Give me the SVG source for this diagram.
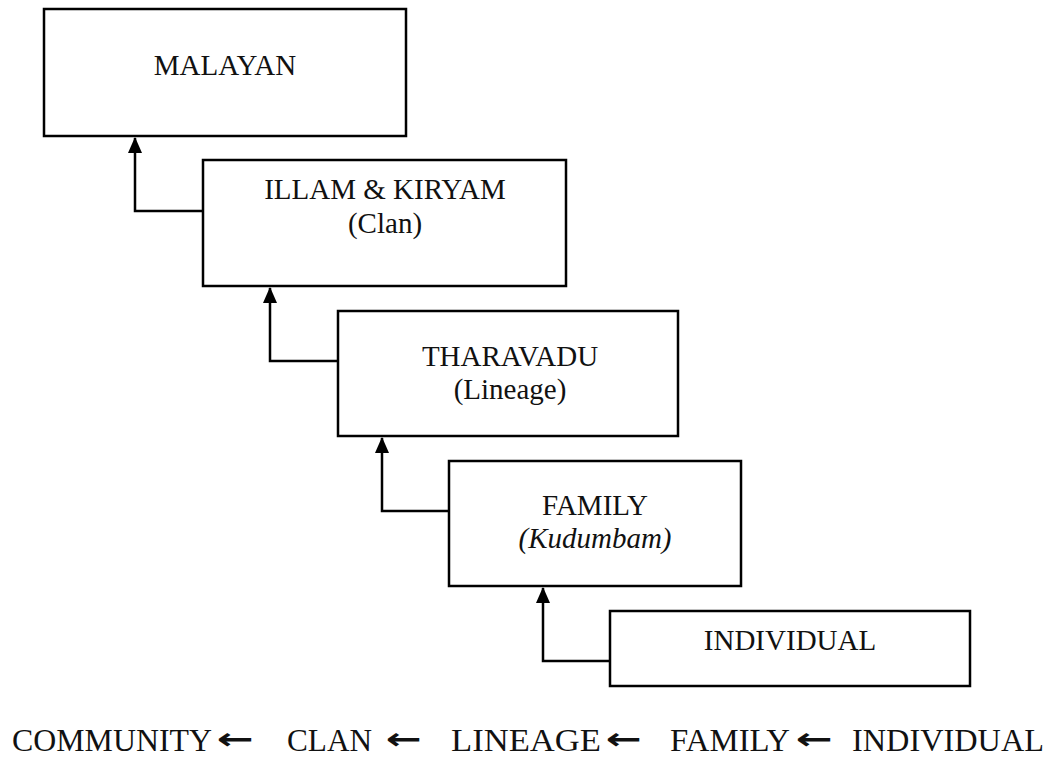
<svg xmlns="http://www.w3.org/2000/svg" width="1054" height="758" viewBox="0 0 1054 758">
<style>
.box{fill:#fff;stroke:#000;stroke-width:2.5}
.t{font-family:"Liberation Serif","DejaVu Serif",serif;font-size:29px;fill:#111;text-anchor:middle}
.i{font-style:italic}
.c{fill:none;stroke:#000;stroke-width:2.5}
.b{font-family:"Liberation Serif","DejaVu Serif",serif;font-size:32px;fill:#111}
.ar{font-family:"DejaVu Sans",sans-serif;font-weight:bold;font-size:30px;fill:#111}
</style>
<defs>
<marker id="ah" markerWidth="16" markerHeight="14" refX="15" refY="7" orient="auto" markerUnits="userSpaceOnUse" viewBox="0 0 16 14">
<path d="M0,0 L16,7 L0,14 Z" fill="#000"/>
</marker>
</defs>
<rect width="1054" height="758" fill="#fff"/>
<g id="connectors">
<path class="c" d="M203,211 H135 V138" marker-end="url(#ah)"/>
<path class="c" d="M338,361 H270 V288" marker-end="url(#ah)"/>
<path class="c" d="M449,511 H382 V438" marker-end="url(#ah)"/>
<path class="c" d="M610,661 H543 V588" marker-end="url(#ah)"/>
</g>
<g id="malayan">
<rect class="box" x="44" y="9" width="362" height="127"/>
<text class="t" x="225" y="75">MALAYAN</text>
</g>
<g id="illam">
<rect class="box" x="203" y="160" width="363" height="126"/>
<text class="t" x="385" y="199">ILLAM &amp; KIRYAM</text>
<text class="t" x="385" y="233">(Clan)</text>
</g>
<g id="tharavadu">
<rect class="box" x="338" y="311" width="340" height="125"/>
<text class="t" x="510" y="366">THARAVADU</text>
<text class="t" x="510" y="399">(Lineage)</text>
</g>
<g id="family">
<rect class="box" x="449" y="461" width="292" height="125"/>
<text class="t" x="595" y="515">FAMILY</text>
<text class="t i" x="595" y="548">(Kudumbam)</text>
</g>
<g id="individual">
<rect class="box" x="610" y="611" width="360" height="75"/>
<text class="t" x="790" y="650">INDIVIDUAL</text>
</g>
<g id="legend">
<text class="b" x="12" y="751" textLength="200" lengthAdjust="spacingAndGlyphs">COMMUNITY</text>
<text class="ar" x="217" y="749" textLength="37" lengthAdjust="spacingAndGlyphs">←</text>
<text class="b" x="287" y="751" textLength="85" lengthAdjust="spacingAndGlyphs">CLAN</text>
<text class="ar" x="386" y="749" textLength="36" lengthAdjust="spacingAndGlyphs">←</text>
<text class="b" x="451" y="751" textLength="150" lengthAdjust="spacingAndGlyphs">LINEAGE</text>
<text class="ar" x="606" y="749" textLength="36" lengthAdjust="spacingAndGlyphs">←</text>
<text class="b" x="670" y="751" textLength="120" lengthAdjust="spacingAndGlyphs">FAMILY</text>
<text class="ar" x="796" y="749" textLength="37" lengthAdjust="spacingAndGlyphs">←</text>
<text class="b" x="852" y="751" textLength="192" lengthAdjust="spacingAndGlyphs">INDIVIDUAL</text>
</g>
</svg>
